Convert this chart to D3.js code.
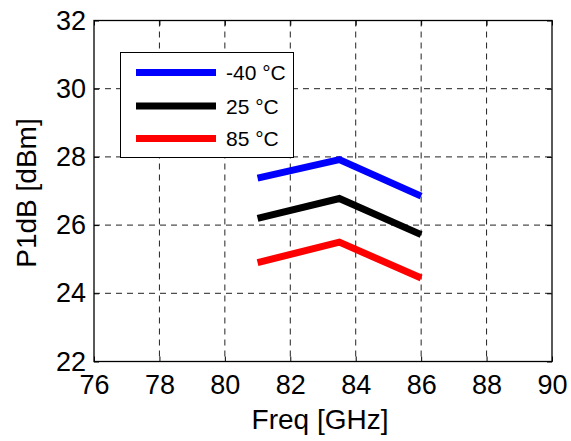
<!DOCTYPE html>
<html>
<head>
<meta charset="utf-8">
<script src="https://cdn.jsdelivr.net/npm/d3@7"></script>
<style>
html,body{margin:0;padding:0;background:#fff;}
svg{display:block;font-family:"Liberation Sans",Arial,Helvetica,sans-serif;}
</style>
</head>
<body>
<svg id="chart" width="571" height="441"></svg>
<script>
const freqs = [81, 83.5, 86];
const seriesNames = ["-40 °C", "25 °C", "85 °C"];
const seriesColors = ["#0000ff", "#000000", "#ff0000"];
const p1dbMinus40 = [27.38, 27.92, 26.85];
const p1db25 = [26.2, 26.78, 25.72];
const p1db85 = [24.9, 25.5, 24.45];
const xTicks = [76, 78, 80, 82, 84, 86, 88, 90];
const yTicks = [22, 24, 26, 28, 30, 32];

const series = [p1dbMinus40, p1db25, p1db85];

const svg = d3.select("#chart");
const L = 94, R = 552, T = 20.5, B = 361.5;
const x = d3.scaleLinear().domain([76, 90]).range([L, R]);
const y = d3.scaleLinear().domain([22, 32]).range([B, T]);

// grid
const grid = svg.append("g");
grid.selectAll("line.vx").data(xTicks.slice(1, -1)).enter().append("line")
  .attr("x1", d => x(d)).attr("x2", d => x(d)).attr("y1", T).attr("y2", B)
  .attr("stroke", "#222").attr("stroke-width", 1).attr("stroke-dasharray", "6,5");
grid.selectAll("line.hy").data(yTicks.slice(1, -1)).enter().append("line")
  .attr("y1", d => y(d)).attr("y2", d => y(d)).attr("x1", L).attr("x2", R)
  .attr("stroke", "#222").attr("stroke-width", 1).attr("stroke-dasharray", "6,5");

// axes
const xAxis = d3.axisBottom(x).tickValues(xTicks).tickSize(-5).tickPadding(13).tickFormat(d3.format("d"));
const yAxis = d3.axisLeft(y).tickValues(yTicks).tickSize(-5).tickPadding(8).tickFormat(d3.format("d"));
const gx = svg.append("g").attr("transform", `translate(0,${B})`).call(xAxis);
const gy = svg.append("g").attr("transform", `translate(${L},0)`).call(yAxis);
[gx, gy].forEach(g => {
  g.select(".domain").remove();
  g.selectAll("line").attr("stroke", "#000");
  g.selectAll("text").attr("font-size", 27).attr("fill", "#000")
    .attr("font-family", "'Liberation Sans',Arial,sans-serif");
});
gx.selectAll("text").attr("dy", "0.71em");
// top/right ticks
const gxt = svg.append("g").attr("transform", `translate(0,${T})`)
  .call(d3.axisTop(x).tickValues(xTicks).tickSize(-5).tickFormat(""));
const gyr = svg.append("g").attr("transform", `translate(${R},0)`)
  .call(d3.axisRight(y).tickValues(yTicks).tickSize(-5).tickFormat(""));
[gxt, gyr].forEach(g => { g.select(".domain").remove(); g.selectAll("line").attr("stroke", "#000"); });

// box
svg.append("rect").attr("x", L).attr("y", T).attr("width", R - L).attr("height", B - T)
  .attr("fill", "none").attr("stroke", "#000").attr("stroke-width", 1.3);

// lines
const line = d3.line().x((d, i) => x(freqs[i])).y(d => y(d));
svg.append("g").selectAll("path").data(series).enter().append("path")
  .attr("d", d => line(d)).attr("fill", "none")
  .attr("stroke", (d, i) => seriesColors[i]).attr("stroke-width", 7)
  .attr("stroke-linejoin", "miter").attr("stroke-linecap", "butt");

// axis labels
svg.append("text").attr("x", 320).attr("y", 429).attr("text-anchor", "middle")
  .attr("font-size", 28).text("Freq [GHz]");
svg.append("text").attr("transform", "translate(36,193) rotate(-90)").attr("text-anchor", "middle")
  .attr("font-size", 28).text("P1dB [dBm]");

// legend
const leg = svg.append("g");
leg.append("rect").attr("x", 120.5).attr("y", 52.5).attr("width", 173).attr("height", 105)
  .attr("fill", "#fff").attr("stroke", "#000").attr("stroke-width", 1);
const legY = [72.5, 106, 138.5];
seriesNames.forEach((name, i) => {
  leg.append("line").attr("x1", 136).attr("x2", 216).attr("y1", legY[i]).attr("y2", legY[i])
    .attr("stroke", seriesColors[i]).attr("stroke-width", 7);
  leg.append("text").attr("x", 226).attr("y", legY[i]).attr("dy", "0.36em")
    .attr("font-size", 21).attr("fill", "#000").text(name);
});
</script>
</body>
</html>
